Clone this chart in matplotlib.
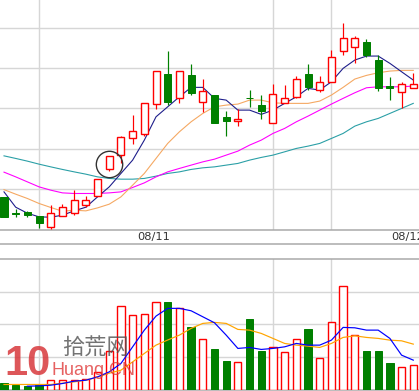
import numpy as np
import matplotlib.pyplot as plt
from matplotlib.lines import Line2D

# candle data (price units; grid step = 10)
opens  = [8.0, 4.0, 4.3, 3.3, 0.65, 3.3, 4.0, 6.0, 8.3, 15.1, 18.4, 22.8, 23.6, 31.0, 38.5, 32.7, 38.2, 31.5,
          33.3, 27.9, 26.8, 32.7, 30.8, 26.5, 31.3, 32.9, 38.5, 34.5, 36.5, 44.3, 45.2, 46.5, 42.0, 35.6, 34.0, 35.2]
highs  = [8.0, 5.2, 4.6, 3.3, 6.0, 6.3, 9.9, 8.3, 12.4, 18.1, 23.2, 28.4, 31.3, 39.3, 44.2, 39.3, 41.0, 37.3,
          33.3, 29.4, 29.8, 34.6, 33.3, 36.1, 35.8, 38.0, 41.0, 38.0, 44.5, 51.3, 48.0, 47.3, 43.2, 37.7, 36.6, 38.9]
lows   = [3.1, 3.1, 3.0, 0.3, 0.15, 3.3, 3.7, 5.5, 8.3, 14.4, 16.4, 21.2, 23.2, 29.9, 30.8, 31.4, 33.4, 29.2,
          26.5, 23.2, 25.7, 30.4, 27.4, 26.5, 31.3, 32.7, 34.7, 34.1, 36.5, 43.3, 41.3, 42.7, 34.4, 32.1, 30.0, 35.2]
closes = [3.1, 3.9, 3.5, 1.5, 4.0, 5.5, 7.4, 7.2, 12.4, 18.1, 22.9, 24.3, 31.3, 39.3, 31.7, 39.3, 33.9, 34.4,
          26.5, 27.0, 27.4, 32.6, 29.4, 33.7, 32.5, 37.3, 35.3, 36.5, 42.7, 47.4, 47.4, 43.3, 35.0, 35.0, 36.0, 36.0]

ma5  = [9.33, 5.53, 4.04, 3.13, 3.05, 3.55, 4.62, 5.53, 8.09, 10.57, 13.90, 17.20, 22.16, 27.94, 30.42, 32.90,
        35.24, 35.24, 32.51, 32.08, 29.60, 29.60, 28.54, 29.60, 31.27, 32.90, 34.99, 34.57, 36.63, 39.95, 42.01,
        43.00, 43.00, 41.19, 39.11, 37.05]
ma10 = [9.88, 8.76, 7.69, 6.45, 5.46, 4.54, 4.79, 4.62, 5.36, 6.28, 8.09, 10.99, 13.90, 17.62, 21.34, 24.22,
        26.70, 28.78, 30.42, 30.84, 31.09, 32.08, 32.08, 31.41, 31.27, 31.27, 31.27, 31.84, 33.33, 35.24, 37.30,
        38.21, 38.86, 39.28, 39.45, 39.45]
ma20 = [14.22, 13.05, 11.81, 10.57, 9.75, 9.08, 8.93, 8.93, 8.93, 9.08, 9.33, 10.42, 11.56, 13.05, 14.29, 15.14,
        15.96, 16.77, 17.44, 18.44, 19.43, 20.92, 22.16, 23.82, 25.06, 26.70, 28.11, 29.60, 31.09, 32.51, 33.90,
        35.14, 35.38, 35.38, 35.38, 35.56]
ma60 = [18.26, 17.62, 16.95, 16.20, 15.53, 14.89, 14.29, 13.72, 13.05, 12.66, 12.48, 12.48, 12.66, 13.23, 13.90,
        14.29, 14.89, 15.29, 15.53, 15.96, 16.38, 17.20, 17.87, 18.44, 19.26, 20.10, 20.67, 21.34, 22.58, 23.82,
        25.63, 26.70, 27.54, 28.78, 30.02, 31.27]

volumes = [184, 132, 101, 132, 285, 301, 285, 316, 531, 1176, 2573, 2272, 2312, 2680, 2680, 2487, 1903, 1544,
           1237, 869, 829, 2158, 1176, 1289, 1136, 1535, 1851, 961, 2057, 3162, 1658, 1176, 1176, 807, 685, 737]
vol_ma5 = [np.nan, np.nan, 101, 111, 132, 184, 255, 285, 387, 540, 798, 1308, 1820, 2250, 2487, 2487, 2413, 2229,
           2045, 1667, 1259, 1289, 1228, 1259, 1308, 1412, 1360, 1360, 1513, 1903, 1891, 1820, 1820, 1566, 1053, 900]
vol_ma10 = [154, 154, 154, 154, 154, 193, 233, 285, 378, 500, 592, 847, 1105, 1360, 1517, 1667, 1873, 2026,
            2057, 2026, 1842, 1820, 1719, 1566, 1412, 1360, 1329, 1289, 1412, 1596, 1646, 1596, 1566, 1513, 1492, 1391]

date_labels = ["08/11", "08/12"]
marked_candle = 9

RED = "#FF0000"
GREEN = "#008000"
GRID = "#D6D6D6"
AXIS = "#A8A8A8"
PX = 0.72  # one pixel in points at 100 dpi

x = np.arange(len(opens))
o = np.array(opens)
c = np.array(closes)
h = np.array(highs)
l = np.array(lows)
up = c >= o

fig = plt.figure(figsize=(4.19, 3.91), dpi=100)
ax = fig.add_axes([0, 1 - 229.5 / 391, 1, 229.5 / 391])
axv = fig.add_axes([0, 1 - 389.5 / 391, 1, (389.5 - 259) / 391])

xlim = (-0.342, 35.49)
for a in (ax, axv):
    a.set_xlim(*xlim)
    a.set_xticks([3, 23, 28])
    a.tick_params(length=0, labelbottom=False, labelleft=False)
    a.grid(True, color=GRID, lw=1.4 * PX)
    a.set_axisbelow(True)
    for s in ("left", "right"):
        a.spines[s].set_visible(False)

ax.set_ylim(0, 56.9)
ax.set_yticks([10, 20, 30, 40, 50])
ax.spines["top"].set_visible(False)
ax.spines["bottom"].set_color(AXIS)
ax.spines["bottom"].set_linewidth(1.5 * PX)

axv.set_ylim(0, 4000)
axv.set_yticks([1000, 2000, 3000])
for s in ("top", "bottom"):
    axv.spines[s].set_color(AXIS)
    axv.spines[s].set_linewidth(1.5 * PX)

# moving averages
ax.plot(x, ma60, color="#2A9FA6", lw=1.1 * PX, zorder=2)
ax.plot(x, ma20, color="#FF00FF", lw=1.1 * PX, zorder=2)
ax.plot(x, ma10, color="#F5A862", lw=1.1 * PX, zorder=2)
ax.plot(x, ma5, color="#1C1C8A", lw=1.1 * PX, zorder=2)

# candles
w = 0.6
body_lo = np.minimum(o, c)
body_hi = np.maximum(o, c)
ax.vlines(x[up], body_hi[up], h[up], color=RED, lw=1.2 * PX, zorder=3)
ax.vlines(x[up], l[up], body_lo[up], color=RED, lw=1.2 * PX, zorder=3)
ax.vlines(x[~up], l[~up], h[~up], color=GREEN, lw=1.2 * PX, zorder=3)
ax.bar(x[up], body_hi[up] - body_lo[up], w, bottom=body_lo[up], facecolor="white",
       edgecolor=RED, lw=1.4 * PX, zorder=4)
ax.bar(x[~up], body_hi[~up] - body_lo[~up], w, bottom=body_lo[~up], facecolor=GREEN,
       edgecolor=GREEN, lw=1.0 * PX, zorder=4)

# marker circle around one candle
mc = marked_candle
ax.plot(mc, (o[mc] + c[mc]) / 2 - 0.3, "o", ms=19, mfc="none", mec="#333333", mew=1.0, zorder=5)

# volume
v = np.array(volumes)
axv.bar(x[up], v[up], 0.62, facecolor="white", edgecolor=RED, lw=1.4 * PX, zorder=3)
axv.bar(x[~up], v[~up], 0.62, facecolor=GREEN, edgecolor=GREEN, lw=1.0 * PX, zorder=3)
axv.plot(x, vol_ma10, color="#FFA500", lw=1.2 * PX, zorder=4)
axv.plot(x, vol_ma5, color="#0000FF", lw=1.2 * PX, zorder=4)

# date strip
fig.add_artist(Line2D([0, 1], [1 - 244 / 391] * 2, transform=fig.transFigure, color=AXIS, lw=1.5 * PX))
fig.text(154 / 419, 1 - 237 / 391, date_labels[0], ha="center", va="center", fontsize=8.2, color="#333333")
fig.text(391.5 / 419, 1 - 237 / 391, date_labels[1], ha="left", va="center", fontsize=8.2, color="#333333")

# watermark
fig.text(4 / 419, 1 - 375 / 391, "10", fontsize=30, fontweight="bold", family="Liberation Sans",
         color="#D8383C", alpha=0.85, ha="left", va="baseline")
fig.text(62 / 419, 1 - 355 / 391, "拾荒网", fontsize=16, color="#505050", alpha=0.8,
         family=["Noto Sans CJK SC", "DejaVu Sans"], ha="left", va="baseline")
fig.text(51 / 419, 1 - 375 / 391, "Huang.CN", fontsize=13, family="Liberation Sans", color="#E03A3A",
         alpha=0.8, ha="left", va="baseline")

fig.savefig("out.png", dpi=100)
